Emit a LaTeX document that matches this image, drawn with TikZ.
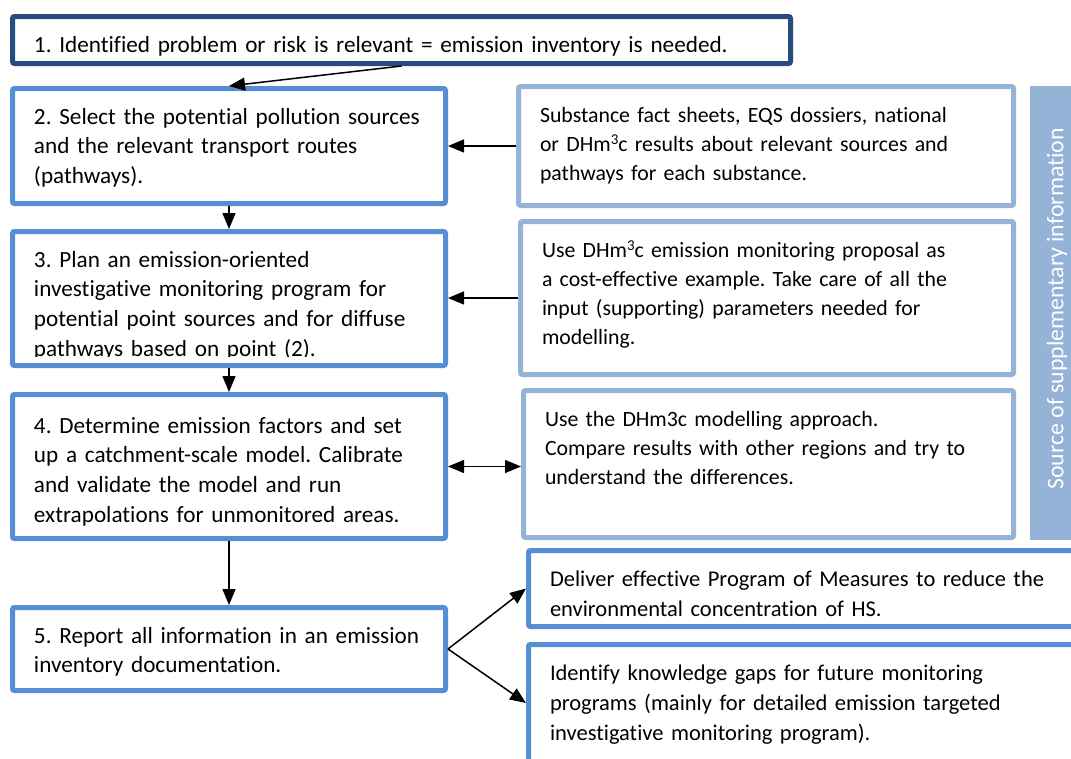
\documentclass[tikz,border=0pt]{standalone}
\usepackage{fontspec}
\setmainfont{Carlito}[Ligatures={NoCommon,NoRequired,NoContextual}]
\usetikzlibrary{arrows.meta}
\definecolor{darkb}{RGB}{41,76,126}
\definecolor{midb}{RGB}{85,142,213}
\definecolor{lightb}{RGB}{149,179,215}
\definecolor{ink}{RGB}{0,0,0}
\newcommand\outlinebox[6]{\node[#1, minimum width={#5-#3-5}, minimum height={#6-#4-5}] (#2) at ({(#3+#5)/2},{(#4+#6)/2}) {};}
\newcommand\supthree{\raisebox{0.62ex}{\fontsize{15}{15}\selectfont 3}}
\frenchspacing
\begin{document}
\begin{tikzpicture}[x=1pt,y=-1pt,
  box/.style={draw, line width=5pt, rounded corners=2pt, fill=white, inner sep=0pt},
  mainbox/.style={box, draw=midb},
  topbox/.style={box, draw=darkb},
  srcbox/.style={box, draw=lightb},
  txt/.style={anchor=base west, inner sep=0pt, outer sep=0pt, align=left, text width=760pt, font=\fontsize{23.2}{29.8}\selectfont\frenchspacing, text=ink},
  srctxt/.style={txt, font=\fontsize{21.8}{29}\selectfont\frenchspacing},
  outtxt/.style={txt, font=\fontsize{22.5}{30}\selectfont\frenchspacing},
  arr/.style={line width=1.5pt, -{Triangle[length=16pt,width=13pt]}},
  darr/.style={line width=1.5pt, {Triangle[length=16pt,width=13pt]}-{Triangle[length=16pt,width=13pt]}}
]
\path[use as bounding box, clip] (0,0) rectangle (1071,758);
\fill[white] (0,0) rectangle (1071,758);
% boxes
\outlinebox{topbox}{b1}{10}{14}{793}{66}
\outlinebox{mainbox}{b2}{10}{86}{448}{206}
\outlinebox{mainbox}{b3}{10}{229}{448}{368}
\outlinebox{mainbox}{b4}{10}{392}{448}{541}
\outlinebox{mainbox}{b5}{10}{605}{448}{693}
\outlinebox{srcbox}{s1}{516}{84}{1016}{208}
\outlinebox{srcbox}{s2}{518}{219}{1016}{377}
\outlinebox{srcbox}{s3}{521}{388}{1016}{540}
\outlinebox{mainbox}{d1}{526}{548}{1085}{629}
\outlinebox{mainbox}{d2}{526}{642}{1085}{764}
\node[fill=lightb, minimum width=50, minimum height=454, inner sep=0pt, anchor=north west] (bar) at (1030,86) {};
\node[rotate=90, text=white, inner sep=0pt, font=\fontsize{23.8}{28}\selectfont\frenchspacing] (bartxt) at (1057,309) {Source of supplementary information};
% texts
\node[txt] (t1) at (34,52) {1. Identified problem or risk is relevant = emission inventory is needed.};
\node[txt] (t2) at (34,124) {2. Select the potential pollution sources\\and the relevant transport routes\\(pathways).};
\begin{scope}
\clip (10,229) rectangle (448,356);
\node[txt] (t3) at (34,267) {3. Plan an emission-oriented\\investigative monitoring program for\\potential point sources and for diffuse\\pathways based on point (2).};
\end{scope}
\node[txt] (t4) at (34,433) {4. Determine emission factors and set\\up a catchment-scale model. Calibrate\\and validate the model and run\\extrapolations for unmonitored areas.};
\node[txt] (t5) at (34,643) {5. Report all information in an emission\\inventory documentation.};
\node[srctxt] (u1) at (540,122) {Substance fact sheets, EQS dossiers, national\\or DHm\supthree c results about relevant sources and\\pathways for each substance.};
\node[srctxt] (u2) at (542,257) {Use DHm\supthree c emission monitoring proposal as\\a cost-effective example. Take care of all the\\input (supporting) parameters needed for\\modelling.};
\node[srctxt] (u3) at (545,426) {Use the DHm3c modelling approach.\\Compare results with other regions and try to\\understand the differences.};
\node[outtxt] (v1) at (550,586) {Deliver effective Program of Measures to reduce the\\environmental concentration of HS.};
\node[outtxt] (v2) at (550,680) {Identify knowledge gaps for future monitoring\\programs (mainly for detailed emission targeted\\investigative monitoring program).};
% connectors
\draw[arr] (b1.south) -- (b2.north);
\draw[arr] (b2.south) -- (b3.north);
\draw[arr] (b3.south) -- (b4.north);
\draw[arr] (b4.south) -- (b5.north);
\draw[arr] (s1.west) -- (b2.east |- s1.west);
\draw[arr] (s2.west) -- (b3.east |- s2.west);
\draw[darr] (b4.east) -- (s3.west |- b4.east);
\draw[arr] (b5.east) -- (d1.west);
\draw[arr] (b5.east) -- (d2.west);
\end{tikzpicture}
\end{document}
